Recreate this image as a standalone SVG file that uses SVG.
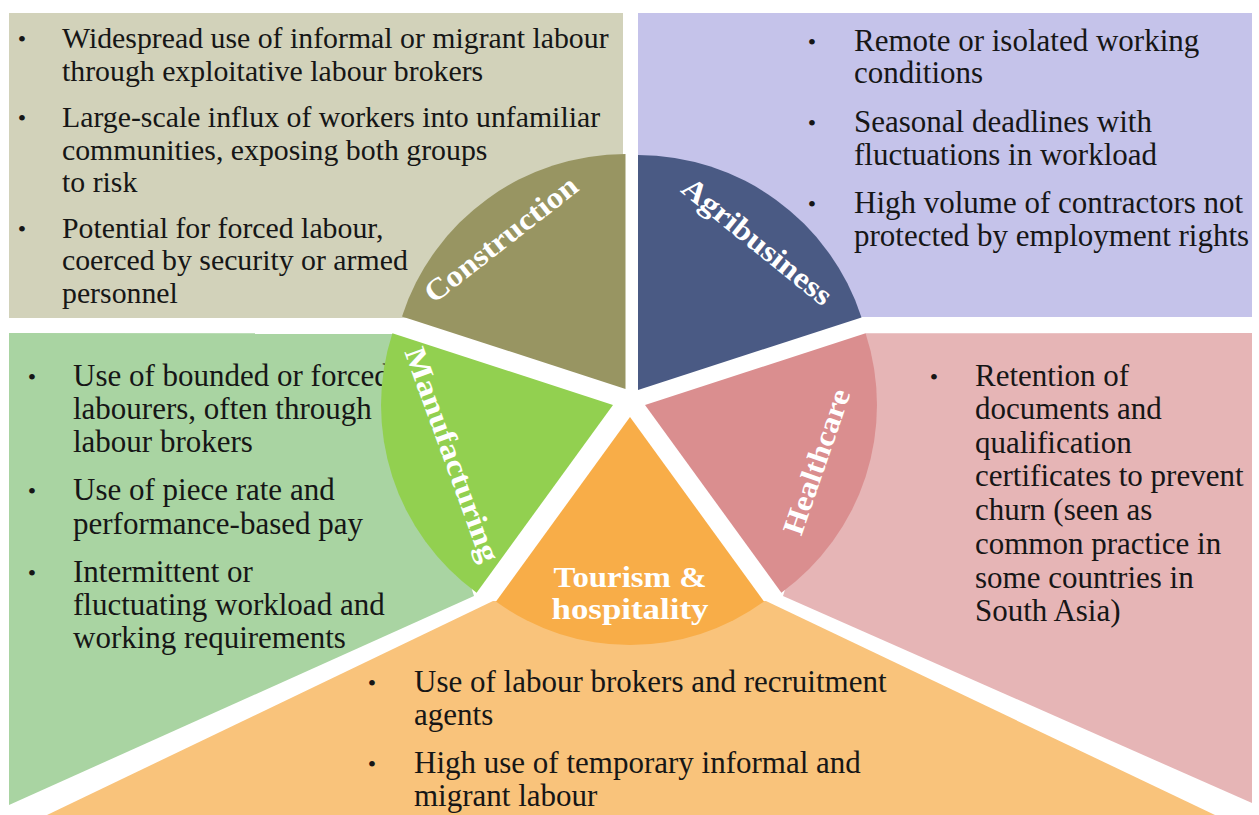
<svg xmlns="http://www.w3.org/2000/svg" width="1259" height="815" viewBox="0 0 1259 815">
<style>
.t{font-family:"Liberation Serif","Times New Roman",serif;font-size:31px;fill:#161616}
.tc{font-family:"Liberation Serif","Times New Roman",serif;font-size:29.8px;fill:#161616}
.b{font-family:"Liberation Serif","Times New Roman",serif;font-size:24px;fill:#161616;text-anchor:middle}
.l{font-family:"Liberation Serif","Times New Roman",serif;font-size:30px;font-weight:bold;fill:#ffffff;text-anchor:middle}
</style>
<rect width="1259" height="815" fill="#ffffff"/>
<g id="construction">
<rect x="9" y="13" width="614" height="305" fill="#D2D2BA"/>
<text class="b" x="22" y="47">•</text>
<text class="tc" x="62" y="48">Widespread use of informal or migrant labour</text>
<text class="tc" x="62" y="81">through exploitative labour brokers</text>
<text class="b" x="22" y="126">•</text>
<text class="tc" x="62" y="127">Large-scale influx of workers into unfamiliar</text>
<text class="tc" x="62" y="160">communities, exposing both groups</text>
<text class="tc" x="62" y="192">to risk</text>
<text class="b" x="22" y="237">•</text>
<text class="tc" x="62" y="238">Potential for forced labour,</text>
<text class="tc" x="62" y="270">coerced by security or armed</text>
<text class="tc" x="62" y="303">personnel</text>
<path d="M625.5,389 L625.5,154 A235,235 0 0 0 402,316.4 Z" fill="#989562"/>
<text class="l" transform="translate(507,247) rotate(-38)" x="0" y="0" textLength="186" lengthAdjust="spacingAndGlyphs">Construction</text>
</g>
<g id="agribusiness">
<rect x="638" y="13" width="614" height="304" fill="#C5C3EA"/>
<text class="b" x="812" y="50">•</text>
<text class="t" x="854" y="51">Remote or isolated working</text>
<text class="t" x="854" y="83">conditions</text>
<text class="b" x="812" y="131">•</text>
<text class="t" x="854" y="132">Seasonal deadlines with</text>
<text class="t" x="854" y="165">fluctuations in workload</text>
<text class="b" x="812" y="212">•</text>
<text class="t" x="854" y="213">High volume of contractors not</text>
<text class="t" x="854" y="246">protected by employment rights</text>
<path d="M638,390 L638,155 A235,235 0 0 1 861.5,317.4 Z" fill="#4A5A84"/>
<text class="l" transform="translate(751,249) rotate(39)" x="0" y="0" textLength="184" lengthAdjust="spacingAndGlyphs">Agribusiness</text>
</g>
<g id="manufacturing">
<polygon points="9,333 392.4,333.3 474,596 9,805" fill="#A9D4A2"/>
<text class="b" x="32" y="385">•</text>
<text class="t" x="73" y="386">Use of bounded or forced</text>
<text class="t" x="73" y="419">labourers, often through</text>
<text class="t" x="73" y="452">labour brokers</text>
<text class="b" x="32" y="499">•</text>
<text class="t" x="73" y="500">Use of piece rate and</text>
<text class="t" x="73" y="534">performance-based pay</text>
<text class="b" x="32" y="581">•</text>
<text class="t" x="73" y="582">Intermittent or</text>
<text class="t" x="73" y="615">fluctuating workload and</text>
<text class="t" x="73" y="648">working requirements</text>
<path d="M613,405 L392.4,333.3 A232,232 0 0 0 476.6,592.7 Z" fill="#92D050"/>
<text class="l" transform="translate(443,458) rotate(70)" x="0" y="0" textLength="226" lengthAdjust="spacingAndGlyphs">Manufacturing</text>
</g>
<g id="healthcare">
<polygon points="865.6,333.3 1252,333 1252,803 783,596" fill="#E6B5B6"/>
<text class="b" x="934" y="385">•</text>
<text class="t" x="975" y="386">Retention of</text>
<text class="t" x="975" y="419">documents and</text>
<text class="t" x="975" y="453">qualification</text>
<text class="t" x="975" y="486">certificates to prevent</text>
<text class="t" x="975" y="520">churn (seen as</text>
<text class="t" x="975" y="554">common practice in</text>
<text class="t" x="975" y="588">some countries in</text>
<text class="t" x="975" y="621">South Asia)</text>
<path d="M645,405 L865.6,333.3 A232,232 0 0 1 781.4,592.7 Z" fill="#DA8E8F"/>
<text class="l" transform="translate(826,465) rotate(-71)" x="0" y="0" textLength="152" lengthAdjust="spacingAndGlyphs">Healthcare</text>
</g>
<g id="tourism">
<polygon points="493,601 766,601 1215,815 47,815" fill="#F9C37B"/>
<text class="b" x="372" y="691">•</text>
<text class="t" x="414" y="692">Use of labour brokers and recruitment</text>
<text class="t" x="414" y="725">agents</text>
<text class="b" x="372" y="772">•</text>
<text class="t" x="414" y="773">High use of temporary informal and</text>
<text class="t" x="414" y="806">migrant labour</text>
<path d="M630,417 L764,601.5 A228,228 0 0 1 496,601.5 Z" fill="#F8AD48"/>
<text class="l" x="630" y="587" font-size="27" textLength="153" lengthAdjust="spacingAndGlyphs">Tourism &amp;</text>
<text class="l" x="630" y="619" font-size="27" textLength="157" lengthAdjust="spacingAndGlyphs">hospitality</text>
</g>
<g id="connectors"></g>
</svg>
